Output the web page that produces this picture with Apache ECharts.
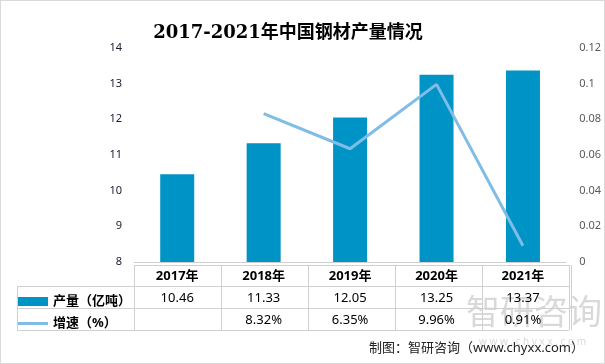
<!DOCTYPE html>
<html><head><meta charset="utf-8">
<script src="https://cdn.jsdelivr.net/npm/echarts@6/dist/echarts.min.js"></script>
<style>html,body{margin:0;padding:0;background:#fff}#c{width:605px;height:364px;box-sizing:border-box;border:1px solid #d9d9d9}</style>
</head><body><div id="c"></div>
<script>
const categories = ['2017年','2018年','2019年','2020年','2021年'];
const production = [10.46, 11.33, 12.05, 13.25, 13.37];
const growth = [null, 0.0832, 0.0635, 0.0996, 0.0091];
const leftTicks = [8, 14, 1];
const rightTicks = [0, 0.12, 0.02];
const seriesNames = ['产量（亿吨）', '增速（%）'];

const CJK = "'Noto Sans','Noto Sans CJK SC',sans-serif";
const chart = echarts.init(document.getElementById('c'), null, {renderer:'canvas'});
const fmtPct = v => v == null ? '' : (v*100).toFixed(2) + '%';
const tableLine = '#d0d0d0';
const legendText = {fontFamily: CJK, fontSize: 13, fontWeight: 'bold', color: '#000'};
chart.setOption({
  animation: false,
  title: {
    text: '2017-2021年中国钢材产量情况', left: 282, top: 18, textAlign: 'center',
    textStyle: {fontFamily: "'DejaVu Serif','Noto Sans CJK SC',serif", fontSize: 18, fontWeight: 'bold', color: '#000'}
  },
  legend: [
    {orient: 'vertical', left: 12, top: 289, itemGap: 10, itemWidth: 30, itemHeight: 9,
     data: [{name: seriesNames[0], icon: 'rect'}], textStyle: legendText},
    {orient: 'vertical', left: 12, top: 311, itemGap: 10, itemWidth: 30, itemHeight: 3,
     data: [{name: seriesNames[1], icon: 'rect'}], textStyle: legendText}
  ],
  grid: [
    {left: 133, right: 35, top: 47, bottom: 101},
    {left: 133, right: 35, top: 264, height: 65}
  ],
  xAxis: [
    {type: 'category', data: categories, gridIndex: 0,
     axisLine: {lineStyle: {color: tableLine}}, axisTick: {show: false},
     axisLabel: {margin: 3, interval: 0,
       formatter: (v, i) => `{y|${v}}\n{a|${production[i].toFixed(2)}}\n{b|${fmtPct(growth[i])}}`,
       rich: {
         y: {fontFamily: CJK, fontSize: 13, fontWeight: 'bold', color: '#000', lineHeight: 22},
         a: {fontFamily: CJK, fontSize: 13, color: '#000', lineHeight: 22},
         b: {fontFamily: CJK, fontSize: 13, color: '#000', lineHeight: 22}
       }}},
    {type: 'category', data: categories, gridIndex: 1,
     axisLine: {show: false}, axisTick: {show: false}, axisLabel: {show: false},
     splitLine: {show: true, lineStyle: {color: tableLine}}}
  ],
  yAxis: [
    {type: 'value', gridIndex: 0, min: leftTicks[0], max: leftTicks[1], interval: leftTicks[2],
     axisLine: {show: false}, axisTick: {show: false}, splitLine: {show: false},
     axisLabel: {margin: 12, color: '#1a1a2e', fontFamily: CJK, fontSize: 11}},
    {type: 'value', gridIndex: 0, position: 'right', min: rightTicks[0], max: rightTicks[1], interval: rightTicks[2],
     axisLine: {show: false}, axisTick: {show: false}, splitLine: {show: false},
     axisLabel: {margin: 13, color: '#595959', fontFamily: CJK, fontSize: 11, formatter: v => String(+v.toFixed(2))}},
    {type: 'value', gridIndex: 1, min: 0, max: 3, interval: 1, inverse: true,
     axisLine: {show: false}, axisTick: {show: false}, axisLabel: {show: false},
     splitLine: {show: true, lineStyle: {color: tableLine}}}
  ],
  graphic: [
    {type: 'polyline', shape: {points: [[16,285.5],[133,285.5]]}, style: {stroke: tableLine, lineWidth: 1}},
    {type: 'polyline', shape: {points: [[16,307.5],[133,307.5]]}, style: {stroke: tableLine, lineWidth: 1}},
    {type: 'polyline', shape: {points: [[16,329.5],[133,329.5]]}, style: {stroke: tableLine, lineWidth: 1}},
    {type: 'polyline', shape: {points: [[16.5,285.5],[16.5,329.5]]}, style: {stroke: tableLine, lineWidth: 1}},
    {type: 'polyline', shape: {points: [[570.5,264],[570.5,329.5]]}, style: {stroke: tableLine, lineWidth: 1}},
    {type: 'text', left: 465, top: 296, z: -1, style: {text: '智研咨询', fontFamily: CJK, fontSize: 34, fill: 'rgba(160,160,160,0.4)'}},
    {type: 'text', left: 478, top: 336, z: -1, style: {text: 'w w w . c h y x x . c o m', fontFamily: CJK, fontSize: 10, fill: 'rgba(160,160,160,0.4)'}},
    {type: 'text', right: 20, top: 341, style: {text: '制图：智研咨询（www.chyxx.com）', fontFamily: CJK, fontSize: 13, fill: '#222'}}
  ],
  series: [
    {name: seriesNames[0], type: 'bar', xAxisIndex: 0, yAxisIndex: 0, data: production,
     barWidth: 34, itemStyle: {color: '#0093c6'}},
    {name: seriesNames[1], type: 'line', xAxisIndex: 0, yAxisIndex: 1, data: growth,
     symbol: 'none', lineStyle: {color: '#7fbce6', width: 3}, itemStyle: {color: '#7fbce6'}}
  ]
});
</script></body></html>
